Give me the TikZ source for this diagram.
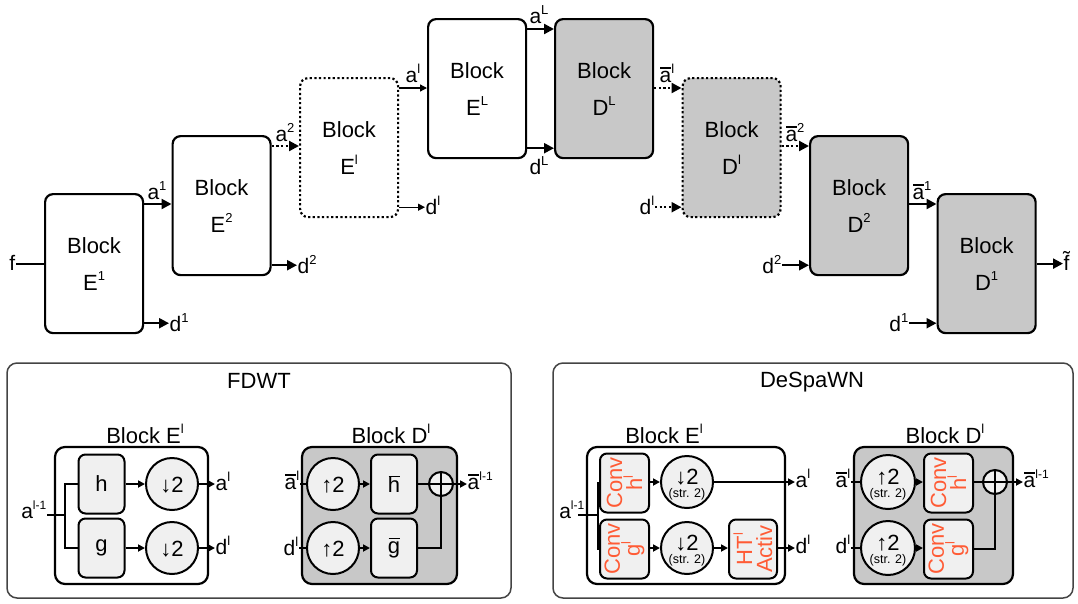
\documentclass[tikz,border=0pt]{standalone}
\usepackage{fontspec}
\setmainfont{Liberation Sans}
\usetikzlibrary{arrows.meta,calc}
\definecolor{dgray}{HTML}{C8C8C8}
\definecolor{lgray}{HTML}{F0F0F0}
\definecolor{convc}{HTML}{FF5B35}
\definecolor{frame}{HTML}{444444}
\newcommand\spx[1]{\raisebox{0.42em}{\fontsize{13}{13}\selectfont #1}}
\newcommand\ssp[1]{\raisebox{0.42em}{\fontsize{12}{12}\selectfont #1}}
\newcommand\ovb[2][0.68em]{\leavevmode\rlap{\hspace{0.03em}\rule[#1]{0.5em}{1.5pt}}#2}
\newcommand\abar{\ovb[0.64em]{a}}
\tikzset{
  blk/.style={draw, line width=2.2pt, rounded corners=8pt, minimum width=98pt,
    minimum height=139pt, anchor=north west, align=center,
    font=\fontsize{22}{37}\selectfont, inner sep=0pt},
  eblk/.style={blk, fill=white},
  dblk/.style={blk, fill=dgray},
  dotb/.style={dash pattern=on 2.2pt off 2.4pt},
  thk/.style={line width=2.2pt, -{Triangle[length=10pt,width=10pt]}},
  thn/.style={line width=1.3pt, -{Triangle[length=7pt,width=7pt]}},
  lab/.style={font=\fontsize{21}{21}\selectfont, inner sep=0.5pt},
  panel/.style={draw=frame, line width=1.5pt, rounded corners=10pt},
  ttl/.style={font=\fontsize{22}{22}\selectfont, inner sep=0pt, anchor=base},
  outer/.style={draw, line width=2.2pt, rounded corners=10pt},
  ibox/.style={draw, line width=2pt, fill=lgray, rounded corners=7pt,
    minimum width=46pt, minimum height=59pt, inner sep=0pt,
    font=\fontsize{22}{22}\selectfont},
  circ/.style={draw, line width=2pt, fill=lgray, circle, minimum size=52pt,
    inner sep=0pt, font=\fontsize{22}{22}\selectfont},
  oplus/.style={draw, line width=2pt, fill=lgray, circle, minimum size=24pt,
    inner sep=0pt, path picture={
      \draw[line width=2pt] (path picture bounding box.north) -- (path picture bounding box.south)
        (path picture bounding box.west) -- (path picture bounding box.east);}},
  convt/.style={rotate=90, align=center, text=convc,
    font=\fontsize{22}{20}\selectfont, inner sep=0pt},
  sline/.style={line width=2pt},
  sarr/.style={line width=2pt, -{Triangle[length=7pt,width=7pt]}},
  strt/.style={font=\fontsize{12.5}{12.5}\selectfont, inner sep=0pt, anchor=base},
  arw/.style={font=\fontsize{22}{22}\selectfont, inner sep=0pt, anchor=base},
}
\begin{document}
\begin{tikzpicture}[x=1pt,y=-1pt]
\useasboundingbox (0,0) rectangle (1078,603);

% ---------------- top chain ----------------
\node[eblk] (E1) at (44,193) {Block\\E\spx{1}};
\node[eblk] (E2) at (171.5,135) {Block\\E\spx{2}};
\node[eblk, dotb] (El) at (299,77) {Block\\E\spx{l}};
\node[eblk] (EL) at (427,18) {Block\\E\spx{L}};
\node[dblk] (DL) at (554,18) {Block\\D\spx{L}};
\node[dblk, dotb] (Dl) at (681.5,77) {Block\\D\spx{l}};
\node[dblk] (D2) at (809,135) {Block\\D\spx{2}};
\node[dblk] (D1) at (936.5,193) {Block\\D\spx{1}};

% input f
\node[lab, anchor=base east] (f) at (16,270) {f};
\draw[line width=2.2pt] (f.east |- E1.west) -- (E1.west);

% encoder arrows
\coordinate (a1s) at ([yshift=-11pt]E1.north east);
\draw[thk] (a1s) -- (a1s -| E2.west);
\node[lab, anchor=base] (a1) at (157,199) {a\spx{1}};
\coordinate (d1s) at ([yshift=11pt]E1.south east);
\node[lab, anchor=base west] (d1) at (169,331) {d\spx{1}};
\draw[thk] (d1s) -- (d1s -| d1.west);

\coordinate (a2s) at ([yshift=-11pt]E2.north east);
\draw[thk, dotb] (a2s) -- (a2s -| El.west);
\node[lab, anchor=base] (a2) at (285,141) {a\spx{2}};
\coordinate (d2s) at ([yshift=11pt]E2.south east);
\node[lab, anchor=base west] (d2) at (297,273) {d\spx{2}};
\draw[thk] (d2s) -- (d2s -| d2.west);

\coordinate (als) at ([yshift=-11pt]El.north east);
\draw[thn] (als) -- (als -| EL.west);
\node[lab, anchor=base] (al) at (413,82) {a\spx{l}};
\coordinate (dls) at ([yshift=11pt]El.south east);
\node[lab, anchor=base west] (dl) at (425,214) {d\spx{l}};
\draw[thn] (dls) -- (dls -| dl.west);

\coordinate (aLs) at ([yshift=-11pt]EL.north east);
\draw[thk] (aLs) -- (aLs -| DL.west);
\node[lab, anchor=base] (aL) at (539,23) {a\spx{L}};
\coordinate (dLs) at ([yshift=11pt]EL.south east);
\draw[thk] (dLs) -- (dLs -| DL.west);
\node[lab, anchor=base] (dL) at (539,174) {d\spx{L}};

% decoder arrows
\coordinate (bals) at ([yshift=-11pt]Dl.north west);
\draw[thk, dotb] (bals -| DL.east) -- (bals);
\node[lab, anchor=base] (bal) at (667,82) {\abar\spx{l}};
\coordinate (bdls) at ([yshift=11pt]Dl.south west);
\node[lab, anchor=base east] (bdl) at (655,214) {d\spx{l}};
\draw[thk, dotb] (bdls -| bdl.east) -- (bdls);

\coordinate (ba2s) at ([yshift=-11pt]D2.north west);
\draw[thk, dotb] (ba2s -| Dl.east) -- (ba2s);
\node[lab, anchor=base] (ba2) at (795,141) {\abar\spx{2}};
\coordinate (bd2s) at ([yshift=11pt]D2.south west);
\node[lab, anchor=base east] (bd2) at (782,273) {d\spx{2}};
\draw[thk] (bd2s -| bd2.east) -- (bd2s);

\coordinate (ba1s) at ([yshift=-11pt]D1.north west);
\draw[thk] (ba1s -| D2.east) -- (ba1s);
\node[lab, anchor=base] (ba1) at (922,199) {\abar\spx{1}};
\coordinate (bd1s) at ([yshift=11pt]D1.south west);
\node[lab, anchor=base east] (bd1) at (909,331) {d\spx{1}};
\draw[thk] (bd1s -| bd1.east) -- (bd1s);

\node[lab, anchor=base west] (ft) at (1063,270) {\~f};
\draw[thk] (D1.east) -- (D1.east -| ft.west);

% ---------------- FDWT panel ----------------
\draw[panel] (7,363) rectangle (511,598);
\node[ttl] (tf) at (259,388) {FDWT};

\node[ttl] (fEt) at (145,443) {Block E\spx{l}};
\draw[outer, fill=white] (55,447) rectangle (208,584);
\node[ibox] (fh) at (101.5,484) {h};
\node[ibox] (fg) at (101.5,548) {g};
\node[circ] (fc1) at (172,484) {};
\node[circ] (fc2) at (172,548) {};
\node[arw] (fc1t) at (172,492) {↓2};
\node[arw] (fc2t) at (172,556) {↓2};
\node[lab, anchor=base east] (fain) at (47,518) {a\ssp{l-1}};
\coordinate (fbr) at (65,515);
\draw[sline] (fain.east |- fbr) -- (fbr);
\draw[sline] (fh.west) -- (fh.west -| fbr) -- (fg.west -| fbr) -- (fg.west);
\draw[sarr] (fh) -- (fc1);
\draw[sarr] (fg) -- (fc2);
\node[lab, anchor=base west] (fal) at (215,490) {a\spx{l}};
\node[lab, anchor=base west] (fdl) at (215,554) {d\spx{l}};
\draw[sarr] (fc1.east) -- (fc1.east -| fal.west);
\draw[sarr] (fc2.east) -- (fc2.east -| fdl.west);

\node[ttl] (fDt) at (391,443) {Block D\spx{l}};
\draw[outer, fill=dgray] (302,447) rectangle (457,584);
\node[circ] (fu1) at (333,484) {};
\node[circ] (fu2) at (333,548) {};
\node[arw] (fu1t) at (333,492) {↑2};
\node[arw] (fu2t) at (333,556) {↑2};
\node[ibox] (fhb) at (394,484) {\ovb{h}};
\node[ibox] (fgb) at (394,548) {\ovb[0.64em]{g}};
\node[oplus] (fop) at (441,484) {};
\node[lab, anchor=base east] (fbal) at (300,489) {\abar\spx{l}};
\node[lab, anchor=base east] (fbdl) at (299,555) {d\spx{l}};
\draw[sline] (fbal.east |- fu1) -- (fu1.west);
\draw[sline] (fbdl.east |- fu2) -- (fu2.west);
\draw[sarr] (fu1) -- (fhb);
\draw[sarr] (fu2) -- (fgb);
\draw[sline] (fhb) -- (fop);
\draw[sline] (fgb.east) -| (fop.south);
\node[lab, anchor=base west] (fout) at (467,489) {\abar\ssp{l-1}};
\draw[sarr] (fop.east) -- (fop.east -| fout.west);

% ---------------- DeSpaWN panel ----------------
\draw[panel] (553,363) rectangle (1073,598);
\node[ttl] (td) at (812,387) {DeSpaWN};

\node[ttl] (dEt) at (664,443) {Block E\spx{l}};
\draw[outer, fill=white] (587,447) rectangle (785,584);
\node[ibox, minimum width=49pt] (dh) at (624.5,483) {};
\node[ibox, minimum width=49pt] (dg) at (624.5,549) {};
\node[convt] (dht) at (dh.center) {Conv\\h\spx{l}};
\node[convt] (dgt) at (dg.center) {Conv\\g\spx{l}};
\node[circ] (dc1) at (687,482) {};
\node[circ] (dc2) at (687,548) {};
\node[arw] (dc1t) at (687,484) {↓2};
\node[arw] (dc2t) at (687,550) {↓2};
\node[strt] (dc1s) at (687,497) {(str. 2)};
\node[strt] (dc2s) at (687,563) {(str. 2)};
\node[ibox, minimum width=48pt] (dht2) at (753,549) {};
\node[convt] (dhtt) at (dht2.center) {HT\spx{l}\\Activ};
\node[lab, anchor=base east] (dain) at (585,518) {a\ssp{l-1}};
\coordinate (dbr) at (598,515);
\draw[sline] ([xshift=-7pt]dain.east |- dbr) -- (dbr);
\draw[sline] (dh.west) -- (dh.west -| dbr) -- (dg.west -| dbr) -- (dg.west);
\draw[sarr] (dh.east |- dc1) -- (dc1.west);
\draw[sarr] (dg.east |- dc2) -- (dc2.west);
\draw[sarr] (dc2.east) -- (dc2.east -| dht2.west);
\node[lab, anchor=base west] (dal) at (795,487) {a\spx{l}};
\node[lab, anchor=base west] (ddl) at (795,553) {d\spx{l}};
\draw[sarr] (dc1.east) -- (dc1.east -| dal.west);
\draw[sarr] (dht2.east |- dc2) -- (dc2 -| ddl.west);

\node[ttl] (dDt) at (945,443) {Block D\spx{l}};
\draw[outer, fill=dgray] (854,447) rectangle (1013,584);
\node[circ, minimum size=54pt] (du1) at (888,482) {};
\node[circ, minimum size=54pt] (du2) at (888,548) {};
\node[arw] (du1t) at (888,484) {↑2};
\node[arw] (du2t) at (888,550) {↑2};
\node[strt] (du1s) at (888,497) {(str. 2)};
\node[strt] (du2s) at (888,563) {(str. 2)};
\node[ibox, minimum width=49pt] (dhb) at (948.5,483) {};
\node[ibox, minimum width=49pt] (dgb) at (948.5,549) {};
\node[convt] (dhbt) at (dhb.center) {Conv\\h\spx{l}};
\node[convt] (dgbt) at (dgb.center) {Conv\\g\spx{l}};
\node[oplus] (dop) at (995,482) {};
\node[lab, anchor=base east] (dbal) at (851,487) {\abar\spx{l}};
\node[lab, anchor=base east] (dbdl) at (851,553) {d\spx{l}};
\draw[sline] (dbal.east |- du1) -- (du1.west);
\draw[sline] (dbdl.east |- du2) -- (du2.west);
\draw[sarr] (du1.east) -- (du1.east -| dhb.west);
\draw[sarr] (du2.east) -- (du2.east -| dgb.west);
\draw[sline] (dhb.east |- dop) -- (dop.west);
\draw[sline] (dgb.east) -| (dop.south);
\node[lab, anchor=base west] (dout) at (1023,487) {\abar\ssp{l-1}};
\draw[sarr] (dop.east) -- (dop.east -| dout.west);
\end{tikzpicture}
\end{document}
